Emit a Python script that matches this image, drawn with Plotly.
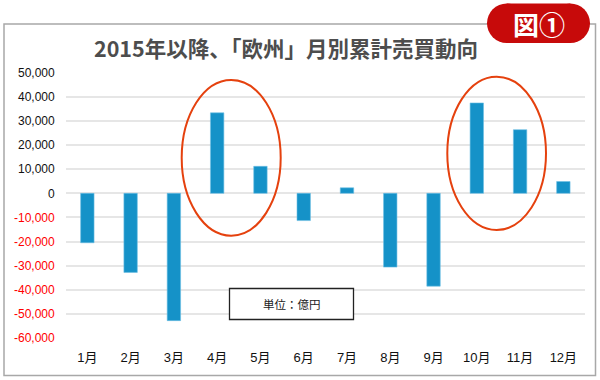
import plotly.graph_objects as go

months = ["1月", "2月", "3月", "4月", "5月", "6月", "7月", "8月", "9月", "10月", "11月", "12月"]
values = [-20500, -32800, -52800, 33400, 11200, -11300, 2300, -30600, -38500, 37500, 26400, 4900]
y_ticks = [50000, 40000, 30000, 20000, 10000, 0, -10000, -20000, -30000, -40000, -50000, -60000]
y_tick_labels = []
for v in y_ticks:
    s = f"{v:,}"
    if v < 0:
        s = f"<span style='color:#ff0000'>{s}</span>"
    y_tick_labels.append(s)

title_text = "2015年以降、「欧州」月別累計売買動向"
badge_text = "図①"
unit_text = "単位：億円"

W, H = 600, 380
def px(x):
    return x / W
def py(y):
    return 1 - y / H

fig = go.Figure()
fig.add_trace(go.Bar(
    x=months, y=values,
    marker=dict(color="#1592c8", line=dict(color="#6fc0e4", width=0.6)),
    width=0.31,
))

shapes = [
    dict(type="rect", xref="paper", yref="paper", x0=px(4), x1=px(595.5), y0=py(24), y1=py(375.5),
         line=dict(color="#a8a8a8", width=1.5), fillcolor="rgba(0,0,0,0)", layer="below"),
    dict(type="circle", xref="paper", yref="paper", x0=px(181.7), x1=px(280.7), y0=py(80), y1=py(235.7),
         line=dict(color="#e5410e", width=2)),
    dict(type="circle", xref="paper", yref="paper", x0=px(447.3), x1=px(546), y0=py(76.7), y1=py(230),
         line=dict(color="#e5410e", width=2)),
    dict(type="rect", xref="paper", yref="paper", x0=px(229.5), x1=px(353.5), y0=py(288.5), y1=py(319.5),
         line=dict(color="#222222", width=1.3), fillcolor="white"),
]
bx0, bx1, by0, by1 = 487, 590, 3.5, 43
r = (by1 - by0) / 2
shapes += [
    dict(type="rect", xref="paper", yref="paper", x0=px(bx0 + r), x1=px(bx1 - r), y0=py(by0), y1=py(by1),
         line=dict(width=0), fillcolor="#c70a0a"),
    dict(type="circle", xref="paper", yref="paper", x0=px(bx0), x1=px(bx0 + 2 * r), y0=py(by0), y1=py(by1),
         line=dict(width=0), fillcolor="#c70a0a"),
    dict(type="circle", xref="paper", yref="paper", x0=px(bx1 - 2 * r), x1=px(bx1), y0=py(by0), y1=py(by1),
         line=dict(width=0), fillcolor="#c70a0a"),
]

annotations = [
    dict(text=f"<b>{title_text}</b>", xref="paper", yref="paper", x=px(286), y=py(47),
         showarrow=False, xanchor="center", yanchor="middle",
         font=dict(family="Noto Sans CJK JP", size=21.5, color="#4d4d4d")),
    dict(text=f"<b>{badge_text}</b>", xref="paper", yref="paper", x=px(538.5), y=py(23.5),
         showarrow=False, xanchor="center", yanchor="middle",
         font=dict(family="Noto Sans CJK JP", size=26, color="white")),
    dict(text=unit_text, xref="paper", yref="paper", x=px(291.5), y=py(304),
         showarrow=False, xanchor="center", yanchor="middle",
         font=dict(family="Noto Sans CJK JP", size=11.5, color="#222222")),
]

fig.update_layout(
    width=W, height=H,
    margin=dict(l=0, r=0, t=0, b=0),
    paper_bgcolor="white", plot_bgcolor="white",
    showlegend=False,
    shapes=shapes,
    annotations=annotations,
    bargap=0.69,
    xaxis=dict(domain=[px(65.7), px(585)], showgrid=False, zeroline=False, showline=False,
               ticks="", automargin=False, ticklabelstandoff=10,
               tickfont=dict(family="Liberation Sans, Noto Sans CJK JP", size=13, color="#111111")),
    yaxis=dict(domain=[py(338), py(72.8)], range=[-60000, 50000], tickvals=y_ticks, ticktext=y_tick_labels,
               showgrid=True, gridcolor="#e6e6e6", gridwidth=1.5, zeroline=True, zerolinecolor="#e6e6e6",
               zerolinewidth=1.5, showline=False, ticks="", automargin=False, ticklabelstandoff=10,
               tickfont=dict(family="Liberation Sans, Arial", size=12, color="#111111")),
)

fig.write_html("out.html", config={"displayModeBar": False},
               post_script="document.body.style.margin='0';document.body.style.padding='0';document.body.style.overflow='hidden';")
